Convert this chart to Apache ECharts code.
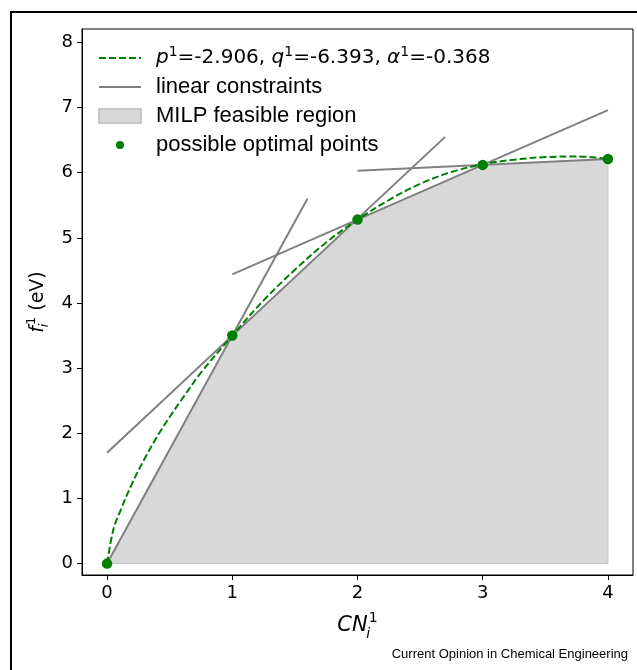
<!DOCTYPE html>
<html>
<head>
<meta charset="utf-8">
<script src="https://cdn.jsdelivr.net/npm/echarts@6/dist/echarts.min.js"></script>
<style>html,body{margin:0;padding:0;background:#fff;}#c{width:637px;height:670px;}</style>
</head>
<body>
<div id="c"></div>
<script>
// ---- data ----
const xTicks = [0, 1, 2, 3, 4];
const yTicks = [0, 1, 2, 3, 4, 5, 6, 7, 8];

// dashed fitted curve
const curveX = [0, 0.05, 0.1, 0.2, 0.3, 0.4, 0.5, 0.6, 0.75, 1, 1.25, 1.5, 1.75, 2, 2.25, 2.5, 2.75, 3, 3.25, 3.5, 3.75, 4];
const curveY = [0, 0.52, 0.78, 1.23, 1.61, 1.95, 2.25, 2.53, 2.93, 3.50, 4.04, 4.51, 4.93, 5.28, 5.58, 5.83, 6.01, 6.13, 6.20, 6.24, 6.25, 6.21];

// possible optimal points
const pointX = [0, 1, 2, 3, 4];
const pointY = [0, 3.50, 5.28, 6.12, 6.21];

// linear constraints: segment end points
const lineX0 = [0, 0, 1, 2];
const lineY0 = [0, 1.70, 4.44, 6.03];
const lineX1 = [1.6, 2.7, 4, 4];
const lineY1 = [5.60, 6.55, 6.96, 6.21];

// feasible region closes down to the x axis at the last point
const regionX = pointX.concat([4]);
const regionY = pointY.concat([0]);

const curveName = 'curve';
const font = 'DejaVu Sans';
const lfont = 'Liberation Sans';

const chart = echarts.init(document.getElementById('c'), null, {renderer: 'canvas'});

const series = [];
series.push({
  name: 'MILP feasible region',
  type: 'custom',
  z: 1,
  itemStyle: {color: '#d8d8d8', borderColor: '#c4c4c4', borderWidth: 1},
  encode: {x: 0, y: 1},
  data: regionX.map((x, i) => [x, regionY[i]]),
  renderItem: function (params, api) {
    if (params.dataIndex !== 0) return null;
    const pts = regionX.map((x, i) => api.coord([x, regionY[i]]));
    return {type: 'polygon', shape: {points: pts}, style: {fill: '#d8d8d8', stroke: '#c4c4c4', lineWidth: 1}};
  }
});
for (let k = 0; k < lineX0.length; k++) {
  series.push({
    name: 'linear constraints',
    type: 'line',
    z: 2,
    symbol: 'none',
    lineStyle: {color: '#808080', width: 2},
    itemStyle: {color: '#808080'},
    data: [[lineX0[k], lineY0[k]], [lineX1[k], lineY1[k]]]
  });
}
series.push({
  name: curveName,
  type: 'line',
  z: 3,
  symbol: 'none',
  smooth: 0.35,
  lineStyle: {color: '#008000', width: 2, type: [7, 3]},
  itemStyle: {color: '#008000'},
  data: curveX.map((x, i) => [x, curveY[i]])
});
series.push({
  name: 'possible optimal points',
  type: 'scatter',
  z: 4,
  symbol: 'circle',
  symbolSize: 10.5,
  itemStyle: {color: '#008000', opacity: 1},
  data: pointX.map((x, i) => [x, pointY[i]])
});

const option = {
  animation: false,
  backgroundColor: '#ffffff',
  grid: {left: 82, right: 4, top: 29, bottom: 95, show: true, borderColor: '#000', borderWidth: 1, backgroundColor: 'transparent'},
  xAxis: {
    type: 'value', min: -0.2, max: 4.2,
    axisLine: {show: true, onZero: false, lineStyle: {color: '#000', width: 1}},
    splitLine: {show: false},
    axisTick: {show: true, length: 5, lineStyle: {color: '#000', width: 1}, customValues: xTicks},
    axisLabel: {fontFamily: font, fontSize: 18, color: '#000', margin: 9, customValues: xTicks},
    name: '{it|CN}{sb|i}{sp|1}',
    nameLocation: 'middle',
    nameGap: 36,
    nameTextStyle: {
      fontFamily: font, fontSize: 21, color: '#000',
      rich: {
        it: {fontFamily: font, fontSize: 21, fontStyle: 'italic', color: '#000', lineHeight: 30, verticalAlign: 'middle'},
        sb: {fontFamily: font, fontSize: 14, fontStyle: 'italic', color: '#000', verticalAlign: 'bottom', width: 1, lineHeight: 30},
        sp: {fontFamily: font, fontSize: 14, color: '#000', verticalAlign: 'top', lineHeight: 30}
      }
    }
  },
  yAxis: {
    type: 'value', min: -0.175, max: 8.206,
    axisLine: {show: true, onZero: false, lineStyle: {color: '#000', width: 1}},
    splitLine: {show: false},
    axisTick: {show: true, length: 5, lineStyle: {color: '#000', width: 1}, customValues: yTicks},
    axisLabel: {fontFamily: font, fontSize: 18, color: '#000', margin: 9, customValues: yTicks},
    name: '{it|f}{sb|i}{sp|1}{n| (eV)}',
    nameLocation: 'middle',
    nameRotate: 90,
    nameGap: 30,
    nameTextStyle: {
      fontFamily: font, fontSize: 19, color: '#000',
      rich: {
        it: {fontFamily: font, fontSize: 19, fontStyle: 'italic', color: '#000', lineHeight: 26, verticalAlign: 'middle'},
        sb: {fontFamily: font, fontSize: 13, fontStyle: 'italic', color: '#000', verticalAlign: 'bottom', width: 1, lineHeight: 26},
        sp: {fontFamily: font, fontSize: 13, color: '#000', verticalAlign: 'top', lineHeight: 26},
        n: {fontFamily: font, fontSize: 19, color: '#000', lineHeight: 26, verticalAlign: 'middle'}
      }
    }
  },
  legend: {
    orient: 'vertical',
    left: 98,
    top: 45,
    padding: 0,
    itemWidth: 42,
    itemHeight: 14,
    itemGap: 3,
    selectedMode: false,
    data: [
      {name: curveName, itemStyle: {opacity: 0}},
      {name: 'linear constraints', itemStyle: {opacity: 0}},
      {name: 'MILP feasible region', icon: 'rect'},
      {name: 'possible optimal points', icon: 'path://M0,0M42,14M17,7a4,4 0 1,0 8,0a4,4 0 1,0 -8,0z'}
    ],
    formatter: function (name) {
      if (name === curveName) {
        return '{i|p}{s|1}{d|=-2.906, }{i|q}{s|1}{d|=-6.393, }{i|α}{s|1}{d|=-0.368}';
      }
      return '{t|' + name + '}';
    },
    textStyle: {
      fontFamily: lfont, fontSize: 22, color: '#000', lineHeight: 26, padding: [0, 0, 0, 10],
      rich: {
        t: {fontFamily: lfont, fontSize: 22, color: '#000', lineHeight: 26, verticalAlign: 'middle'},
        d: {fontFamily: font, fontSize: 20, color: '#000', lineHeight: 26, verticalAlign: 'middle'},
        i: {fontFamily: font, fontSize: 20, fontStyle: 'italic', color: '#000', lineHeight: 26, verticalAlign: 'middle'},
        s: {fontFamily: font, fontSize: 14, color: '#000', lineHeight: 24, verticalAlign: 'top'}
      }
    }
  },
  graphic: [
    {type: 'rect', shape: {x: 11, y: 12, width: 640, height: 680}, style: {fill: 'none', stroke: '#000', lineWidth: 2}, z: 100, silent: true},
    {type: 'text', right: 9, top: 648, style: {text: 'Current Opinion in Chemical Engineering', fontFamily: lfont, fontSize: 13, fill: '#000'}, z: 100}
  ],
  series: series
};
chart.setOption(option);
</script>
</body>
</html>
